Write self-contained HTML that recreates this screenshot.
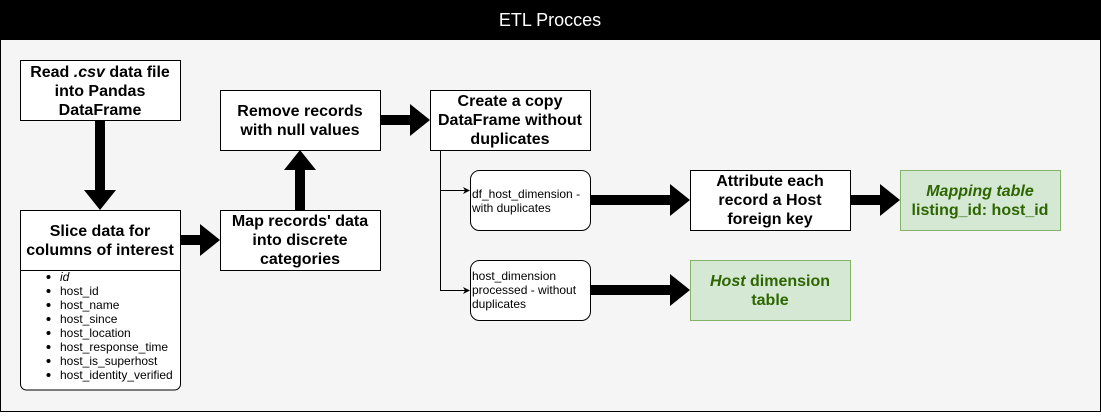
<!DOCTYPE html>
<html><head><style>
body{margin:0;background:#fff}
svg text{font-family:"Liberation Sans",Arial,sans-serif}
</style></head><body>
<svg width="1101" height="412" viewBox="0 0 1101 412" xmlns="http://www.w3.org/2000/svg">
<rect x="0.5" y="0.5" width="1100" height="411" fill="#f5f5f5" stroke="#000"/>
<rect x="0" y="0" width="1101" height="40" fill="#000"/>
<text x="550" y="26" font-size="18" fill="#fff" text-anchor="middle">ETL Procces</text>
<g stroke="#000" fill="#fff">
<rect x="20.5" y="60.5" width="160" height="60"/>
<path d="M20.5 210.5H180.5V384a6 6 0 0 1-6 6H26.5a6 6 0 0 1-6-6Z"/>
<line x1="20.5" y1="270.5" x2="180.5" y2="270.5"/>
<rect x="220.5" y="210.5" width="160" height="60"/>
<rect x="220.5" y="90.5" width="160" height="60"/>
<rect x="430.5" y="90.5" width="160" height="60"/>
<rect x="470.5" y="170.5" width="120" height="60" rx="9"/>
<rect x="470.5" y="260.5" width="120" height="60" rx="9"/>
<rect x="690.5" y="170.5" width="160" height="60"/>
<rect x="690.5" y="260.5" width="160" height="60" fill="#d5e8d4" stroke="#82b366"/>
<rect x="900.5" y="170.5" width="160" height="60" fill="#d5e8d4" stroke="#82b366"/>
</g>
<g fill="#000">
<rect x="95" y="120" width="10" height="70"/><polygon points="84,190 116,190 100,210"/>
<rect x="180" y="235" width="20" height="10"/><polygon points="200,224 200,256 220,240"/>
<rect x="295" y="170" width="10" height="40"/><polygon points="284,170 316,170 300,150"/>
<rect x="380" y="115" width="30" height="10"/><polygon points="410,104 410,136 430,120"/>
<rect x="590" y="195" width="80" height="10"/><polygon points="670,184 670,216 690,200"/>
<rect x="590" y="285" width="80" height="10"/><polygon points="670,274 670,306 690,290"/>
<rect x="850" y="195" width="30" height="10"/><polygon points="880,184 880,216 900,200"/>
</g>
<g stroke="#000" fill="none">
<path d="M440.5 150V290.5H466M440.5 190.5H466"/>
</g>
<polygon points="470,190.5 463,187 465,190.5 463,194" fill="#000"/>
<polygon points="470,290.5 463,287 465,290.5 463,294" fill="#000"/>
<g font-size="16" font-weight="bold" text-anchor="middle" fill="#000">
<text x="100" y="77">Read <tspan font-style="italic">.csv</tspan> data file</text>
<text x="100" y="96">into Pandas</text>
<text x="100" y="115">DataFrame</text>
<text x="100" y="236">Slice data for</text>
<text x="100" y="255">columns of interest</text>
<text x="300" y="226">Map records' data</text>
<text x="300" y="245">into discrete</text>
<text x="300" y="264">categories</text>
<text x="300" y="116">Remove records</text>
<text x="300" y="135">with null values</text>
<text x="510" y="106">Create a copy</text>
<text x="510" y="125">DataFrame without</text>
<text x="510" y="144">duplicates</text>
<text x="770" y="186">Attribute each</text>
<text x="770" y="205">record a Host</text>
<text x="770" y="224">foreign key</text>
<text x="770" y="286" fill="#2d6600"><tspan font-style="italic">Host</tspan> dimension</text>
<text x="770" y="305" fill="#2d6600">table</text>
<text x="980" y="196" fill="#2d6600" font-style="italic">Mapping table</text>
<text x="980" y="215" fill="#2d6600">listing_id: host_id</text>
</g>
<g font-size="12" fill="#000">
<text x="472" y="198">df_host_dimension -</text>
<text x="472" y="212">with duplicates</text>
<text x="472" y="280">host_dimension</text>
<text x="472" y="294">processed - without</text>
<text x="472" y="308">duplicates</text>
</g>
<g font-size="12" fill="#000">
<text x="60" y="281" font-style="italic">id</text>
<text x="60" y="295">host_id</text>
<text x="60" y="309">host_name</text>
<text x="60" y="323">host_since</text>
<text x="60" y="337">host_location</text>
<text x="60" y="351">host_response_time</text>
<text x="60" y="365">host_is_superhost</text>
<text x="60" y="379">host_identity_verified</text>
</g>
<g fill="#000">
<circle cx="48.5" cy="277" r="2"/><circle cx="48.5" cy="291" r="2"/><circle cx="48.5" cy="305" r="2"/><circle cx="48.5" cy="319" r="2"/><circle cx="48.5" cy="333" r="2"/><circle cx="48.5" cy="347" r="2"/><circle cx="48.5" cy="361" r="2"/><circle cx="48.5" cy="375" r="2"/>
</g>
</svg>
</body></html>
